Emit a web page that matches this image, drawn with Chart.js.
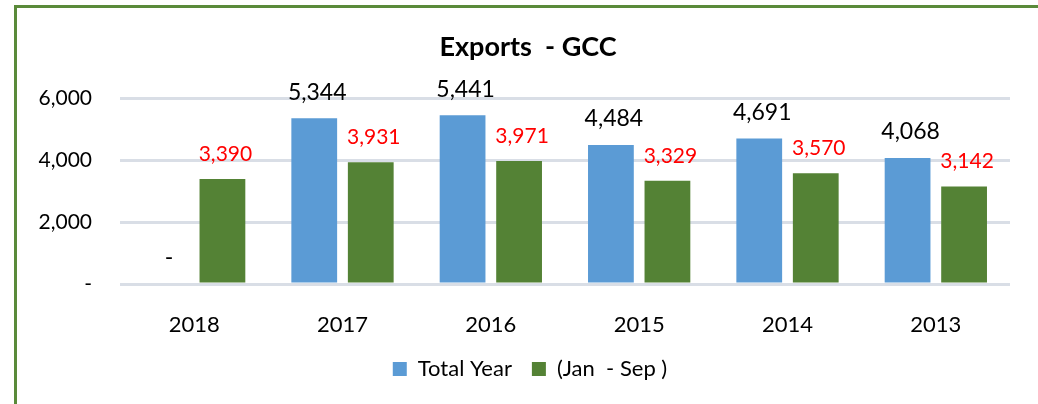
<!DOCTYPE html>
<html>
<head>
<meta charset="utf-8">
<script src="https://cdn.jsdelivr.net/npm/chart.js@4/dist/chart.umd.min.js"></script>
<style>
  html, body { margin: 0; padding: 0; background: #fff; overflow: hidden; }
  #frame { position: absolute; left: 14px; top: 5px; width: 1100px; height: 500px;
           border-left: 3px solid #5a8a3a; border-top: 3px solid #5a8a3a; pointer-events: none; }
  #chart { position: absolute; left: 0; top: 0; }
</style>
</head>
<body>
<canvas id="chart" width="1038" height="404"></canvas>
<div id="frame"></div>
<script>
// data
const years = ['2018', '2017', '2016', '2015', '2014', '2013'];
const totalYear = [0, 5344, 5441, 4484, 4691, 4068];
const janSep = [3390, 3931, 3971, 3329, 3570, 3142];
const yTicks = [0, 2000, 4000, 6000];

const fontFamily = 'Lato, "Open Sans", sans-serif';

function fmt(v) {
    if (v === 0) return '-';
    return v.toLocaleString('en-US');
}

// draws the numbers above the bars
const barLabels = {
    id: 'barLabels',
    afterDatasetsDraw(chart) {
        const ctx = chart.ctx;
        ctx.save();
        ctx.textAlign = 'center';
        ctx.textBaseline = 'middle';
        chart.data.datasets.forEach(function(ds, i) {
            const meta = chart.getDatasetMeta(i);
            meta.data.forEach(function(bar, j) {
                const v = ds.data[j];
                if (i === 0) {
                    ctx.font = '23px ' + fontFamily;
                    ctx.fillStyle = '#000000';
                    ctx.fillText(fmt(v), bar.x + 3, bar.y - 26);
                } else {
                    ctx.font = '21px ' + fontFamily;
                    ctx.fillStyle = '#ff0000';
                    ctx.fillText(fmt(v), bar.x + 3, bar.y - 25);
                }
            });
        });
        ctx.restore();
    }
};

// title and legend sit a bit right of the canvas centre
const shiftBoxes = {
    id: 'shiftBoxes',
    afterLayout(chart) {
        const t = chart.titleBlock;
        const l = chart.legend;
        if (t) { t.left += 23; t.right += 23; }
        if (l) { l.left += 25; l.right += 25; }
    }
};

new Chart(document.getElementById('chart'), {
    type: 'bar',
    data: {
        labels: years,
        datasets: [{
            label: 'Total Year',
            data: totalYear,
            backgroundColor: '#5b9bd5',
            categoryPercentage: 0.762,
            barPercentage: 0.81
        }, {
            label: '(Jan  - Sep )',
            data: janSep,
            backgroundColor: '#548235',
            categoryPercentage: 0.762,
            barPercentage: 0.81
        }]
    },
    options: {
        responsive: false,
        animation: false,
        layout: { padding: { left: 0, right: 28, top: 0, bottom: 14 } },
        plugins: {
            title: {
                display: true,
                text: 'Exports  - GCC',
                color: '#000000',
                font: { family: fontFamily, size: 27, weight: 'bold' },
                padding: { top: 30.8, bottom: 34.8 }
            },
            legend: {
                position: 'bottom',
                labels: {
                    color: '#000000',
                    boxWidth: 14,
                    boxHeight: 14,
                    padding: 20,
                    font: { family: fontFamily, size: 22 }
                }
            },
            tooltip: { enabled: false }
        },
        scales: {
            x: {
                grid: { display: false },
                border: { display: false },
                ticks: { color: '#000000', padding: 20, font: { family: fontFamily, size: 22 } },
                afterFit(scale) { scale.height = 54; }
            },
            y: {
                min: 0,
                max: 6000,
                afterBuildTicks(scale) { scale.ticks = yTicks.map(v => ({ value: v })); },
                grid: { color: '#d9dee6', lineWidth: 3, drawTicks: false },
                border: { display: false },
                ticks: {
                    color: '#000000',
                    padding: 28,
                    font: { family: fontFamily, size: 21 },
                    callback: function(v) { return fmt(v); }
                },
                afterFit(scale) { scale.width = 120; }
            }
        }
    },
    plugins: [barLabels, shiftBoxes]
});
</script>
</body>
</html>
